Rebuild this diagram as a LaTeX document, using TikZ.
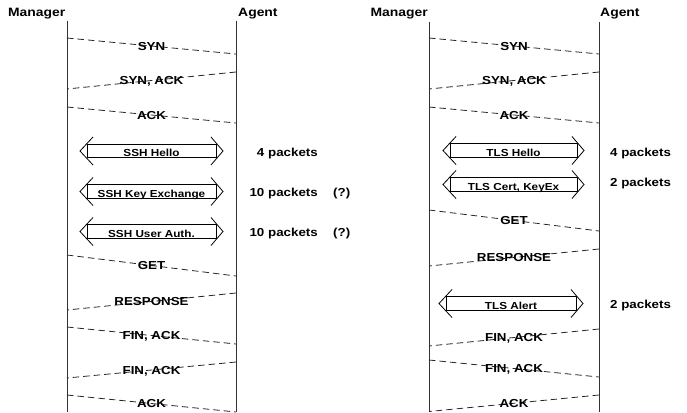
\documentclass[tikz,border=0pt]{standalone}
\usepackage{fontspec}
\setmainfont{Liberation Sans}[FakeStretch=1.15]
\begin{document}
\begin{tikzpicture}[x=1pt,y=-1pt,
  life/.style={draw=black!80, line width=0.9pt},
  msg/.style={draw=black!85, line width=0.8pt, dash pattern=on 6.5pt off 4pt},
  msgtxt/.style={font=\fontsize{11.6}{13}\selectfont\bfseries, inner sep=0pt,
    text height=8.3pt, text depth=0pt, anchor=center},
  pkt/.style={msgtxt},
  title/.style={font=\fontsize{12.1}{14}\selectfont\bfseries, inner sep=0pt,
    text height=8.7pt, text depth=0pt},
  bodybox/.style={draw=black, line width=0.8pt, rectangle, inner sep=0pt,
    minimum height=13.5pt, font=\fontsize{10.2}{12}\selectfont\bfseries,
    text height=11pt, text depth=0pt},
  headline/.style={draw=black, line width=0.8pt}
]
\useasboundingbox (0,0) rectangle (687,412);

% message between two lifelines: name, x1, y1, x2, y2, text
\newcommand\msgline[6]{%
  \coordinate (#1a) at (#2,#3);
  \coordinate (#1b) at (#4,#5);
  \draw[msg] (#1a) -- node[msgtxt] (#1) {#6} (#1b);}

% double-headed exchange arrow: name, left tip x, right tip x, centre y, text
\newcommand\dblbox[5]{%
  \pgfmathsetmacro\bw{#3-#2-14}
  \pgfmathsetmacro\bx{(#2+#3)/2}
  \node[bodybox, minimum width=\bw pt] (#1) at (\bx,#4) {#5};
  \coordinate (#1l) at (#2,#4);
  \coordinate (#1r) at (#3,#4);
  \draw[headline] ([shift={(13,-14)}]#1l) -- (#1l) -- ([shift={(13,14)}]#1l);
  \draw[headline] ([shift={(-12,-14)}]#1r) -- (#1r) -- ([shift={(-12,14)}]#1r);}

% ---------------- SSH session ----------------
\node[title, anchor=east] (sshmgr) at (65.5,11.7) {Manager};
\node[title, anchor=west] (sshagt) at (238,11.7) {Agent};
\coordinate (sshmT) at (67,21);  \coordinate (sshmB) at (67,412);
\coordinate (sshaT) at (236,21); \coordinate (sshaB) at (236,412);
\draw[life] (sshmT) -- (sshmB);
\draw[life] (sshaT) -- (sshaB);

\msgline{s1}{67}{38}{236}{54}{SYN}
\msgline{s2}{236}{72}{67}{89}{SYN, ACK}
\msgline{s3}{67}{107}{236}{123}{ACK}

\dblbox{sb1}{80}{223}{151}{SSH Hello}
\dblbox{sb2}{80}{223}{191.5}{SSH Key Exchange}
\dblbox{sb3}{80}{223}{231.5}{SSH User Auth.}

\node[pkt, anchor=east] (sp1) at (318,152) {4 packets};
\node[pkt, anchor=east] (sp2) at (318,192) {10 packets};
\node[pkt, anchor=west] (sq2) at (333,192) {(?)};
\node[pkt, anchor=east] (sp3) at (318,232.5) {10 packets};
\node[pkt, anchor=west] (sq3) at (333,232.5) {(?)};

\msgline{s4}{67}{255}{236}{276}{GET}
\msgline{s5}{236}{293}{67}{310}{RESPONSE}
\msgline{s6}{67}{327}{236}{344}{FIN, ACK}
\msgline{s7}{236}{362}{67}{378}{FIN, ACK}
\msgline{s8}{67}{395}{236}{412}{ACK}

% ---------------- TLS session ----------------
\node[title, anchor=east] (tlsmgr) at (428,11.7) {Manager};
\node[title, anchor=west] (tlsagt) at (600,11.7) {Agent};
\coordinate (tlsmT) at (429,22); \coordinate (tlsmB) at (429,412);
\coordinate (tlsaT) at (599,22); \coordinate (tlsaB) at (599,412);
\draw[life] (tlsmT) -- (tlsmB);
\draw[life] (tlsaT) -- (tlsaB);

\msgline{t1}{429}{38}{599}{54}{SYN}
\msgline{t2}{599}{72}{429}{89}{SYN, ACK}
\msgline{t3}{429}{107}{599}{123}{ACK}

\dblbox{tb1}{443}{584}{150.5}{TLS Hello}
\dblbox{tb2}{443}{584}{184.5}{TLS Cert, KeyEx}

\node[pkt, anchor=west] (tp1) at (610,152) {4 packets};
\node[pkt, anchor=west] (tp2) at (610,182) {2 packets};

\msgline{t4}{429}{210}{599}{231}{GET}
\msgline{t5}{599}{249}{429}{266}{RESPONSE}

\dblbox{tb3}{439}{583}{303.5}{TLS Alert}
\node[pkt, anchor=west] (tp3) at (610,304) {2 packets};

\msgline{t6}{599}{329}{429}{346}{FIN, ACK}
\msgline{t7}{429}{360}{599}{377}{FIN, ACK}
\msgline{t8}{599}{395}{429}{411.5}{ACK}
\end{tikzpicture}
\end{document}
